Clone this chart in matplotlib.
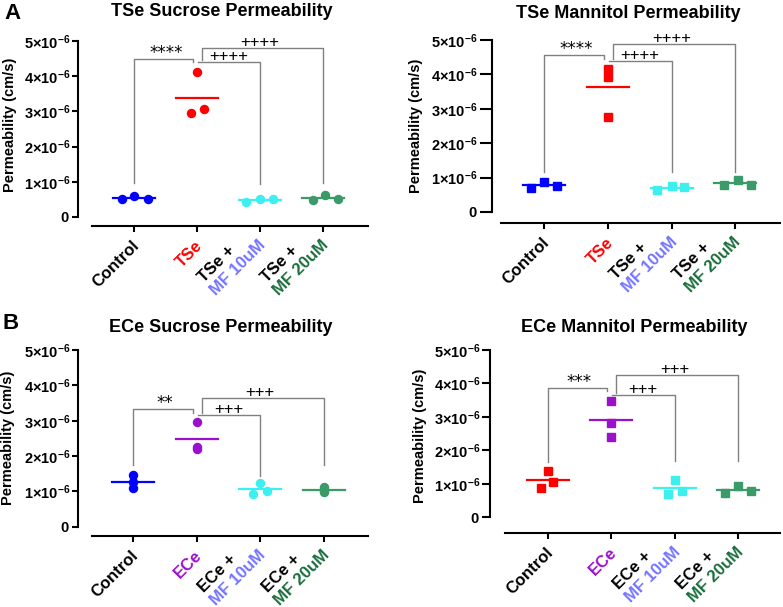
import numpy as np
import matplotlib
matplotlib.use('Agg')
from matplotlib import pyplot as plt
from matplotlib.ticker import FixedLocator, FuncFormatter

plt.rcParams['font.family'] = ['Liberation Sans', 'DejaVu Sans']
plt.rcParams['mathtext.fontset'] = 'custom'
plt.rcParams['mathtext.rm'] = 'Liberation Sans'
plt.rcParams['mathtext.bf'] = 'Liberation Sans:bold'

W, H = 783, 607

# permeability values, in units of 1e-6 cm/s (3 replicates per group)
a_suc_control = [0.50, 0.61, 0.51]
a_suc_tse = [4.11, 2.95, 3.06]
a_suc_mf10 = [0.43, 0.52, 0.51]
a_suc_mf20 = [0.48, 0.62, 0.51]

a_man_control = [0.71, 0.88, 0.77]
a_man_tse = [4.17, 3.93, 2.77]
a_man_mf10 = [0.63, 0.77, 0.72]
a_man_mf20 = [0.79, 0.92, 0.79]

b_suc_control = [1.46, 1.27, 1.09]
b_suc_ece = [2.96, 2.27, 2.19]
b_suc_mf10 = [1.23, 0.93, 1.02]
b_suc_mf20 = [1.12, 1.02, 0.98]

b_man_control = [1.38, 1.06, 0.87]
b_man_ece = [3.48, 2.81, 2.41]
b_man_mf10 = [1.11, 0.79, 0.69]
b_man_mf20 = [0.74, 0.94, 0.79]

# significance brackets: bracket heights (1e-6 cm/s) and labels
a_suc_sig_y = [4.49, 4.40, 4.79]
a_man_sig_y = [4.56, 4.39, 4.89]
b_suc_sig_y = [3.33, 3.16, 3.64]
b_man_sig_y = [3.86, 3.65, 4.25]
a_sig_text = ['****', '++++', '++++']
b_suc_sig_text = ['**', '+++', '+++']
b_man_sig_text = ['***', '+++', '+++']

yticks = [0, 1, 2, 3, 4, 5]

# colours
BLUE = '#0000ff'
RED = '#ff0000'
CYAN = '#3df0f0'
GREEN = '#3a9a68'
PURPLE = '#9a10cc'
TXT_MF10 = '#7474ff'
TXT_MF20 = '#1a6e3c'
GREY = '#808080'


def px_rect(left, top, right, bottom):
    return [left / W, 1 - bottom / H, (right - left) / W, (bottom - top) / H]


def ytick_fmt(v, pos):
    if v == 0:
        return r'$\mathbf{0}$'
    return r'$\mathbf{%d{\times}10^{-6}}$' % int(round(v))


def draw_panel(p):
    ax = fig.add_axes(px_rect(*p['rect']))
    ax.set_xlim(*p['xlim'])
    ax.set_ylim(*p['ylim'])
    for s in ['top', 'right']:
        ax.spines[s].set_visible(False)
    ax.spines['left'].set_bounds(0, 5)
    ax.spines['left'].set_position(('outward', p['yout'] * 0.72))
    for s in ['left', 'bottom']:
        ax.spines[s].set_linewidth(1.5)
    ax.yaxis.set_major_locator(FixedLocator(yticks))
    ax.yaxis.set_major_formatter(FuncFormatter(ytick_fmt))
    ax.tick_params(axis='y', length=p['ytick_len'] * 0.72, width=1.5, labelsize=10.5, pad=1.5)
    ax.set_xticks(range(4))
    ax.set_xticklabels([])
    ax.tick_params(axis='x', length=6 * 0.72, width=1.5)
    fig.text(p['ylabel_xy'][0] / W, 1 - p['ylabel_xy'][1] / H, 'Permeability (cm/s)',
             rotation=90, ha='center', va='center', fontsize=10.5, fontweight='bold')

    # scatter + mean line
    for i, (vals, c) in enumerate(zip(p['groups'], p['colors'])):
        xs = i + np.array(p['jitter'][i])
        ax.plot(xs, vals, ls='', marker=p['marker'], ms=5.8, color=c, zorder=3, clip_on=False)
        m = np.mean(vals)
        ax.plot([i - 0.33, i + 0.33], [m, m], color=c, lw=1.6, zorder=2)

    # brackets
    y1, y2, y3 = p['sig_y']
    lo = p['leg_lo']
    lines = [
        ([0, 0, 0.94, 0.94], [lo[0], y1, y1, y1 - 0.1]),
        ([1.02, 2, 2], [y2, y2, lo[1]]),
        ([1.08, 1.08, 3, 3], [y2 + 0.05, y3, y3, lo[2]]),
    ]
    for xs, ys in lines:
        ax.plot(xs, ys, color=GREY, lw=1.0, zorder=1)
    for (xa, xb), yy, t in zip([(0, 1), (1, 2), (1, 3)], p['sig_y'], p['sig_text']):
        if '*' in t:
            ax.text((xa + xb) / 2, yy + 0.02, t, ha='center', va='baseline',
                    fontsize=12, family='DejaVu Sans')
        else:
            ax.text((xa + xb) / 2, yy + 0.03, t, ha='center', va='baseline', fontsize=12)

    # category labels, rotated, possibly two-coloured lines
    for i, lab in enumerate(p['labels']):
        for txt, col, (dx, dy), ha in lab:
            ax.annotate(txt, xy=(i, 0), xycoords=('data', 'axes fraction'),
                        xytext=(dx * 0.72, -dy * 0.72), textcoords='offset points',
                        rotation=45, rotation_mode='anchor', ha=ha,
                        va='center' if ha == 'right' else 'baseline',
                        fontsize=12, fontweight='bold', color=col)
    fig.text(p['title_xy'][0] / W, 1 - p['title_xy'][1] / H, p['title'],
             ha='center', va='center', fontsize=13, fontweight='bold')
    return ax


SINGLE = (3, 17)
LINE1 = (-56, 57)
LINE2 = (-44, 70)


def labels_for(cond, cond_col):
    return [
        [('Control', 'black', SINGLE, 'right')],
        [(cond, cond_col, SINGLE, 'right')],
        [(cond + ' +', 'black', LINE1, 'left'), ('MF 10uM', TXT_MF10, LINE2, 'left')],
        [(cond + ' +', 'black', LINE1, 'left'), ('MF 20uM', TXT_MF20, LINE2, 'left')],
    ]


fig = plt.figure(figsize=(W / 100, H / 100), dpi=100)

panels = [
    dict(title='TSe Sucrose Permeability', title_xy=(222, 12),
         rect=(92, 39.2, 368, 226), xlim=(-0.67, 3.71), ylim=(-0.256, 5.05), yout=14,
         ytick_len=6, ylabel_xy=(10, 125),
         groups=[a_suc_control, a_suc_tse, a_suc_mf10, a_suc_mf20],
         colors=[BLUE, RED, CYAN, GREEN], marker='o',
         jitter=[[-0.19, 0, 0.22], [0, -0.1, 0.11], [-0.22, 0, 0.21], [-0.17, 0.03, 0.24]],
         sig_y=a_suc_sig_y, sig_text=a_sig_text, leg_lo=[0.97, 0.95, 0.97],
         labels=labels_for('TSe', RED)),
    dict(title='TSe Mannitol Permeability', title_xy=(628, 13),
         rect=(501, 38.3, 780, 223), xlim=(-0.675, 3.70), ylim=(-0.32, 5.05), yout=9.3,
         ytick_len=12, ylabel_xy=(416, 126),
         groups=[a_man_control, a_man_tse, a_man_mf10, a_man_mf20],
         colors=[BLUE, RED, CYAN, GREEN], marker='s',
         jitter=[[-0.2, 0, 0.21], [0, 0, 0], [-0.23, 0, 0.19], [-0.18, 0.04, 0.25]],
         sig_y=a_man_sig_y, sig_text=a_sig_text, leg_lo=[1.17, 1.17, 1.17],
         labels=labels_for('TSe', RED)),
    dict(title='ECe Sucrose Permeability', title_xy=(221, 328),
         rect=(92, 348.4, 368, 535.7), xlim=(-0.64, 3.69), ylim=(-0.255, 5.05), yout=14,
         ytick_len=6, ylabel_xy=(8, 438),
         groups=[b_suc_control, b_suc_ece, b_suc_mf10, b_suc_mf20],
         colors=[BLUE, PURPLE, CYAN, GREEN], marker='o',
         jitter=[[0, 0, 0], [0, 0, 0], [0, -0.11, 0.1], [0, 0, 0]],
         sig_y=b_suc_sig_y, sig_text=b_suc_sig_text, leg_lo=[1.75, 1.44, 1.75],
         labels=labels_for('ECe', PURPLE)),
    dict(title='ECe Mannitol Permeability', title_xy=(634, 328),
         rect=(505, 348.3, 780, 533.3), xlim=(-0.67, 3.66), ylim=(-0.478, 5.05), yout=15,
         ytick_len=8, ylabel_xy=(420, 436),
         groups=[b_man_control, b_man_ece, b_man_mf10, b_man_mf20],
         colors=[RED, PURPLE, CYAN, GREEN], marker='s',
         jitter=[[0, 0.09, -0.11], [0, 0, 0], [0, 0.11, -0.1], [-0.2, 0, 0.21]],
         sig_y=b_man_sig_y, sig_text=b_man_sig_text, leg_lo=[1.64, 1.68, 1.68],
         labels=labels_for('ECe', PURPLE)),
]

for p in panels:
    draw_panel(p)

fig.text(4 / W, 1 - 3 / H, 'A', ha='left', va='top', fontsize=16, fontweight='bold')
fig.text(3 / W, 1 - 313 / H, 'B', ha='left', va='top', fontsize=16, fontweight='bold')

fig.savefig('out.png', dpi=100)
